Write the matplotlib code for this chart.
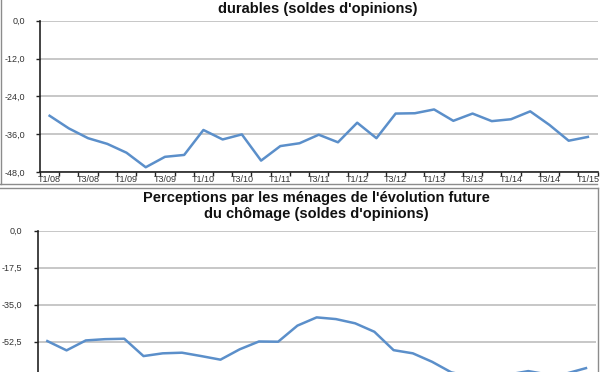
import numpy as np
import matplotlib
matplotlib.use("Agg")
import matplotlib.pyplot as plt
from matplotlib.lines import Line2D

# trimestres T1/08 -> T1/15 (29 points)
trimestres = ["T1/08", "T3/08", "T1/09", "T3/09", "T1/10", "T3/10", "T1/11", "T3/11",
              "T1/12", "T3/12", "T1/13", "T3/13", "T1/14", "T3/14", "T1/15"]

achats = [-30.1, -34.1, -37.2, -39.0, -41.8, -46.4, -43.1, -42.5, -34.6, -37.6,
          -36.0, -44.3, -39.7, -38.8, -36.1, -38.5, -32.3, -37.2, -29.4, -29.3,
          -28.1, -31.7, -29.4, -31.8, -31.2, -28.7, -33.0, -38.0, -36.8]

chomage = [-52.2, -56.6, -51.9, -51.3, -51.1, -59.3, -58.0, -57.7, -59.3, -61.0,
           -56.1, -52.4, -52.5, -44.9, -41.0, -41.8, -43.8, -47.8, -56.5, -58.0,
           -62.0, -67.0, -69.0, -69.0, -68.0, -66.4, -68.0, -67.5, -65.0]

yticks_haut = [0.0, -12.0, -24.0, -36.0, -48.0]
ylabels_haut = ["0,0", "-12,0", "-24,0", "-36,0", "-48,0"]
# seul le haut du second graphique est visible sur la capture
yticks_bas = [0.0, -17.5, -35.0, -52.5]
ylabels_bas = ["0,0", "-17,5", "-35,0", "-52,5"]

plt.rcParams["font.family"] = ["Liberation Sans", "DejaVu Sans"]

bleu = "#5b8fca"
gris = "#bdbdbd"
texte = "#333333"

fig = plt.figure(figsize=(6, 3.72), dpi=100)


def graphique(ax, valeurs, yticks, ylabels, ymin, etiquettes_x=True):
    x = np.arange(len(valeurs))
    ax.plot(x, valeurs, color=bleu, lw=1.8, zorder=3, solid_joinstyle="round")
    ax.set_xlim(-0.5, len(valeurs) - 0.5)
    ax.set_ylim(ymin, 0)
    ax.set_yticks(yticks, ylabels)
    ax.set_xticks(np.arange(0, len(valeurs), 2), trimestres)
    ax.set_xticks(np.arange(-0.5, len(valeurs), 1), minor=True)
    ax.tick_params(axis="x", which="major", length=0, pad=2, labelsize=6.5,
                   labelcolor=texte, labelbottom=etiquettes_x)
    ax.tick_params(axis="x", which="minor", length=3, width=1, color="#222222", direction="out")
    ax.tick_params(axis="y", length=3, width=1, color="#222222", pad=8, labelsize=6.5,
                   labelcolor=texte)
    ax.yaxis.grid(True, color=gris, lw=1.2)
    ax.set_axisbelow(True)
    for s in ["top", "right"]:
        ax.spines[s].set_visible(False)
    ax.spines["left"].set_color("#222222")
    ax.spines["left"].set_linewidth(1.2)
    ax.spines["bottom"].set_color("#222222")
    ax.spines["bottom"].set_linewidth(1.2)
    ax.patch.set_alpha(0)


# graphique du haut (titre coupé par la capture)
ax1 = fig.add_axes([40 / 600, 1 - 172.3 / 372, 557.5 / 600, 151.6 / 372])
graphique(ax1, achats, yticks_haut, ylabels_haut, -48)

# graphique du bas (coupé en bas)
ax2 = fig.add_axes([37.7 / 600, 1 - 378.7 / 372, 557.9 / 600, 148 / 372])
graphique(ax2, chomage, yticks_bas, ylabels_bas, -70, etiquettes_x=False)

fig.text(318 / 600, 1 - 13 / 372, "durables (soldes d'opinions)", ha="center",
         va="baseline", fontsize=10.5, fontweight="bold", color="#111111")
fig.text(316 / 600, 1 - 202 / 372, "Perceptions par les ménages de l'évolution future",
         ha="center", va="baseline", fontsize=10.5, fontweight="bold", color="#111111")
fig.text(316 / 600, 1 - 218 / 372, "du chômage (soldes d'opinions)",
         ha="center", va="baseline", fontsize=10.5, fontweight="bold", color="#111111")

# cadres des deux panneaux
def trait(x, y):
    fig.add_artist(Line2D([v / 600 for v in x], [1 - v / 372 for v in y],
                          color="#8c8c8c", lw=1))

trait([1, 1], [0, 184])
trait([0, 597], [184, 184])
trait([0, 598], [188, 188])
trait([598, 598], [188, 372])

fig.savefig("out.png", dpi=100)
